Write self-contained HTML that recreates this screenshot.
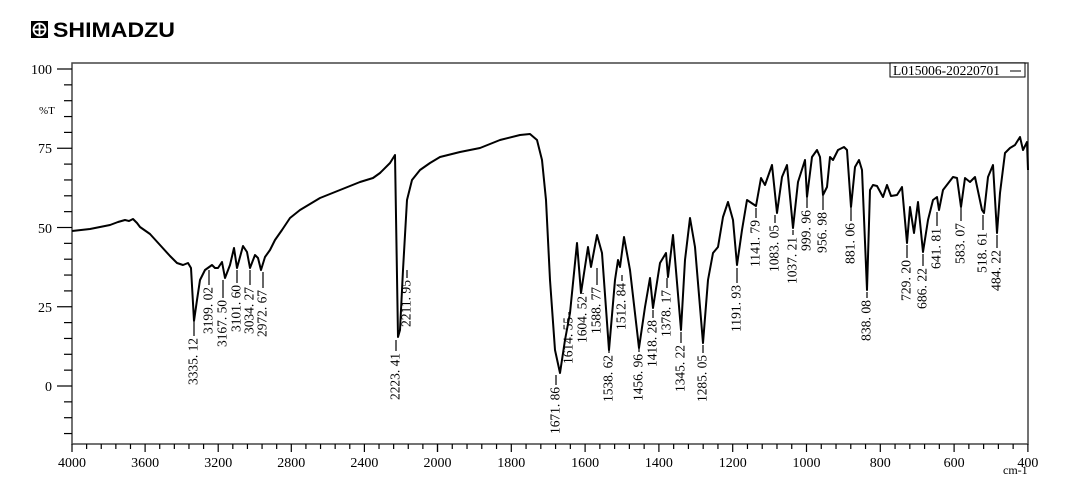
<!DOCTYPE html>
<html><head><meta charset="utf-8"><style>
body{margin:0;background:#fff;width:1086px;height:489px;overflow:hidden}
svg{display:block}
</style></head><body>
<svg width="1086" height="489" xmlns="http://www.w3.org/2000/svg">
<rect x="31" y="21" width="17" height="17" fill="#000"/>
<circle cx="39.5" cy="29.5" r="6" fill="none" stroke="#fff" stroke-width="1.8"/>
<line x1="39.5" y1="23.5" x2="39.5" y2="35.5" stroke="#fff" stroke-width="1.8"/>
<line x1="33.5" y1="29.5" x2="45.5" y2="29.5" stroke="#fff" stroke-width="1.8"/>
<text x="53" y="37" font-family="Liberation Sans, sans-serif" font-weight="bold" font-size="21" textLength="122" lengthAdjust="spacingAndGlyphs">SHIMADZU</text>
<rect x="72" y="63" width="956" height="381" fill="none" stroke="#444" stroke-width="1.5"/>
<g stroke="#000" stroke-width="1.2" id="yt"></g>
<g font-family="Liberation Serif, serif" font-size="14" fill="#000" id="lbl"></g>
<rect x="890" y="63" width="135" height="14" fill="#fff" stroke="#000"/>
<text x="893" y="75" font-family="Liberation Serif, serif" font-size="14" textLength="107" lengthAdjust="spacingAndGlyphs">L015006-20220701</text>
<line x1="1010" y1="71" x2="1021" y2="71" stroke="#000"/>
<text x="52" y="74" text-anchor="end" font-family="Liberation Serif, serif" font-size="14">100</text>
<text x="52" y="153" text-anchor="end" font-family="Liberation Serif, serif" font-size="14">75</text>
<text x="52" y="233" text-anchor="end" font-family="Liberation Serif, serif" font-size="14">50</text>
<text x="52" y="312" text-anchor="end" font-family="Liberation Serif, serif" font-size="14">25</text>
<text x="52" y="391" text-anchor="end" font-family="Liberation Serif, serif" font-size="14">0</text>
<text x="39" y="114" font-family="Liberation Serif, serif" font-size="11">%T</text>
<text x="1003" y="474" font-family="Liberation Serif, serif" font-size="12">cm-1</text>
<polyline fill="none" stroke="#000" stroke-width="2" stroke-linejoin="round" points="72,231 90,229 100,227 110,225 118,222 125,220 129,221 133,219 137,223 140,227 150,234 160,245 170,256 177,263 183,265 188,263 191,268 194,321 197,300 200,280 205,270 212,265 215,268 218,268 222,262 225,278 230,265 234,248 237,268 243,246 247,252 250,268 255,255 258,258 261,270 265,257 270,250 275,240 282,230 290,218 300,210 320,198 340,190 350,186 360,182 373,178 380,173 390,163 395,155 398,337 400,330 403,270 407,200 412,180 420,170 430,163 440,157 460,152 480,148 500,140 520,135 530,134 537,140 542,160 546,200 550,280 555,350 560,373 565,340 570,313 577,243 581,293 588,247 591,267 597,235 602,253 609,350 615,280 618,260 620,267 624,237 630,270 639,348 645,307 650,278 653,308 660,263 666,253 668,277 673,235 681,330 685,260 690,218 695,247 703,343 708,280 713,253 718,247 723,217 728,202 733,220 737,265 742,230 747,200 756,206 761,178 765,185 772,165 777,213 782,177 787,165 793,228 798,182 805,160 807,197 812,157 817,150 820,157 823,195 827,187 830,157 833,160 838,150 844,147 847,150 851,207 855,167 859,160 862,170 867,290 870,190 873,185 877,186 883,197 887,185 891,196 897,195 902,187 907,243 910,207 914,233 918,202 923,252 928,220 933,200 937,197 939,210 943,190 953,177 957,178 961,207 965,178 970,182 975,177 982,210 984,213 988,177 993,165 997,233 1000,193 1005,153 1010,148 1015,145 1020,137 1023,150 1027,142 1028,170"/>
<script>
var ns="http://www.w3.org/2000/svg",yt=document.getElementById('yt'),lb=document.getElementById('lbl');
function L(x1,y1,x2,y2){var l=document.createElementNS(ns,'line');l.setAttribute('x1',x1);l.setAttribute('y1',y1);l.setAttribute('x2',x2);l.setAttribute('y2',y2);yt.appendChild(l);}
function T(x,y,s,a,rot,len){var t=document.createElementNS(ns,'text');t.textContent=s;if(rot){t.setAttribute('transform','translate('+x+','+y+') rotate(-90)');t.setAttribute('text-anchor','end');t.setAttribute('dominant-baseline','central');t.setAttribute('textLength',len);t.setAttribute('lengthAdjust','spacingAndGlyphs');}else{t.setAttribute('x',x);t.setAttribute('y',y);t.setAttribute('text-anchor',a);}lb.appendChild(t);}
for(var v=-15;v<=100;v+=5){var y=386-3.17*v;L(v%25==0?57:64,y,72,y);}
function X(w){return w>=2000?72+(4000-w)*0.18275:437.5+(2000-w)*0.369;}
for(var w=4000;w>=2000;w-=80)L(X(w),444,X(w),w%400==0?452:449);
for(var w=2000;w>=400;w-=40)L(X(w),444,X(w),w%200==0?452:449);
[4000,3600,3200,2800,2400,2000,1800,1600,1400,1200,1000,800,600,400].forEach(function(w){T(X(w),467,w,'middle');});
var P=[[194,338,'3335. 12',322],[209,287,'3199. 02',270],[223,300,'3167. 50',280],[237,285,'3101. 60',270],[250,287,'3034. 27',270],[263,290,'2972. 67',272],[396,353,'2223. 41',340],[407,280,'2211. 95',270],[556,387,'1671. 86',375],[569,317,'1614. 55',312],[583,296,'1604. 52',293],[597,287,'1588. 77',268],[609,355,'1538. 62',350],[622,283,'1512. 84',275],[639,354,'1456. 96',348],[653,320,'1418. 28',310],[667,290,'1378. 17',278],[681,345,'1345. 22',332],[703,355,'1285. 05',345],[737,285,'1191. 93',268],[756,220,'1141. 79',208],[775,225,'1083. 05',215],[793,237,'1037. 21',230],[807,210,'999. 96',198],[823,212,'956. 98',196],[851,223,'881. 06',208],[867,300,'838. 08',292],[907,260,'729. 20',245],[923,268,'686. 22',254],[937,228,'641. 81',212],[961,223,'583. 07',208],[983,232,'518. 61',215],[997,250,'484. 22',235]];
P.forEach(function(p){T(p[0],p[1],p[2],0,1,p[2].length==8?47:41);L(p[0],p[1]-2,p[0],p[3]);});
</script>
</svg>
</body></html>
